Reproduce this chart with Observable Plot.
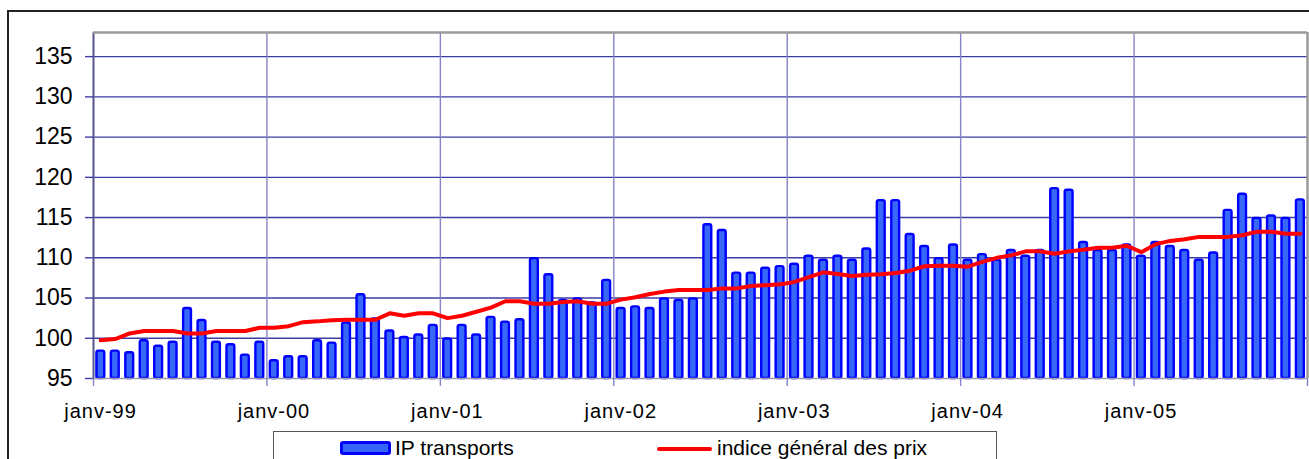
<!DOCTYPE html>
<html>
<head>
<meta charset="utf-8">
<script src="https://cdn.jsdelivr.net/npm/d3@7"></script>
<script src="https://cdn.jsdelivr.net/npm/@observablehq/plot@0.6"></script>
<style>
  html, body { margin: 0; padding: 0; background: #fff; overflow: hidden; }
  body { width: 1309px; height: 459px; position: relative; font-family: "Liberation Sans", Arial, sans-serif; }
  #frame { position: absolute; left: 7px; top: 10px; width: 1320px; height: 470px; border: 2px solid #222; box-sizing: border-box; }
  #chart { position: absolute; left: 0; top: 0; }
  #legend { position: absolute; left: 273px; top: 431px; width: 724px; height: 40px; border: 1.5px solid #555; box-sizing: border-box; background: #fff; }
  .item { position: absolute; top: 4px; font-size: 21px; color: #000; white-space: nowrap; line-height: 24px; }
  .sw-bar { position: absolute; width: 45px; height: 8px; background: #3366ff; border: 3px solid #0000ff; border-radius: 3px; }
  .sw-line { position: absolute; width: 55px; height: 4px; background: #ff0000; border-radius: 2px; }
</style>
</head>
<body>
<div id="frame"></div>
<div id="chart"></div>
<div id="legend"></div>
<script>
// Tick labels (one per January)
const tickLabels = ["janv-99", "janv-00", "janv-01", "janv-02", "janv-03", "janv-04", "janv-05"];
const seriesNames = ["IP transports", "indice général des prix"];

// Monthly values, janv-99 .. déc-05
const ipTransports = [
  98.4, 98.4, 98.2, 99.7, 99.0, 99.5, 103.7, 102.2, 99.5, 99.2, 97.9, 99.5,
  97.2, 97.7, 97.7, 99.7, 99.4, 101.9, 105.4, 102.4, 100.9, 100.1, 100.4, 101.6,
  99.9, 101.6, 100.4, 102.6, 102.0, 102.3, 109.9, 107.9, 104.7, 104.9, 104.4, 107.2,
  103.7, 103.9, 103.7, 104.9, 104.7, 104.9, 114.1, 113.4, 108.1, 108.1, 108.7, 108.9,
  109.2, 110.2, 109.7, 110.2, 109.7, 111.1, 117.1, 117.1, 112.9, 111.4, 109.9, 111.6,
  109.7, 110.4, 109.7, 110.9, 110.2, 110.9, 118.6, 118.4, 111.9, 110.9, 110.9, 111.6,
  110.2, 111.9, 111.4, 110.9, 109.7, 110.6, 115.9, 117.9, 114.9, 115.2, 114.9, 117.2
];
const indiceGeneral = [
  99.75, 99.9, 100.6, 100.9, 100.9, 100.9, 100.6, 100.6, 100.9, 100.9, 100.9, 101.3,
  101.3, 101.5, 102.0, 102.1, 102.25, 102.3, 102.3, 102.3, 103.1, 102.8, 103.1, 103.1,
  102.5, 102.8, 103.3, 103.8, 104.6, 104.6, 104.3, 104.3, 104.5, 104.6, 104.3, 104.3,
  104.8, 105.1, 105.5, 105.8, 106.0, 106.0, 106.0, 106.2, 106.2, 106.5, 106.6, 106.7,
  107.0, 107.6, 108.2, 108.0, 107.75, 107.9, 107.95, 108.1, 108.4, 108.95, 109.0, 109.0,
  108.9, 109.5, 110.0, 110.3, 110.8, 110.8, 110.5, 110.8, 111.0, 111.25, 111.25, 111.5,
  110.7, 111.7, 112.1, 112.3, 112.6, 112.6, 112.6, 112.8, 113.25, 113.25, 113.0, 113.0
];
const yTicks = [95, 100, 105, 110, 115, 120, 125, 130, 135];

const n = ipTransports.length;
const rows = ipTransports.map((v, i) => ({ i, ip: v, cpi: indiceGeneral[i] }));
const yearTicks = d3.range(0, n + 1, 12);

const chart = Plot.plot({
  width: 1309,
  height: 430,
  marginLeft: 93,
  marginRight: 2,
  marginTop: 32,
  marginBottom: 52,
  style: { fontFamily: "'Liberation Sans', Arial, sans-serif", background: "transparent", color: "#000", overflow: "visible" },
  x: { type: "linear", domain: [0, n] },
  y: { domain: [95, 138] },
  marks: [
    Plot.ruleY(yTicks.filter(d => d > 95), { stroke: "#3d3da6", strokeWidth: 1.4 }),
    Plot.ruleX(yearTicks.slice(1, -1), { stroke: "#8484c6", strokeWidth: 1.4 }),
    Plot.ruleX([0], { stroke: "#55558f", strokeWidth: 2 }),
    Plot.rectY(rows, {
      x1: d => d.i, x2: d => d.i + 1, y1: 95, y2: "ip",
      insetLeft: 3.4, insetRight: 3.2,
      fill: "#3868f8", stroke: "#0000ff", strokeWidth: 2.4, rx: 2
    }),
    Plot.line(rows, { x: d => d.i + 0.5, y: "cpi", stroke: "#ff0000", strokeWidth: 4, curve: "linear" }),
    Plot.ruleY([138], { stroke: "#9a9a9a", strokeWidth: 2.5 }),
    Plot.ruleX([n], { stroke: "#9a9a9a", strokeWidth: 2.5 }),
    Plot.ruleY([95], { stroke: "#9a9ab0", strokeWidth: 1.5 }),
    Plot.axisY({
      ticks: yTicks, tickSize: 8, tickPadding: 13, fontSize: 23,
      stroke: "#3d3da6", strokeWidth: 1.4, fill: "#000", tickFormat: d => String(d)
    }),
    Plot.axisX({
      ticks: yearTicks, tickSize: 8, tickPadding: 17, fontSize: 20,
      stroke: "#8484c6", strokeWidth: 1.4, fill: "#000",
      tickFormat: d => tickLabels[d / 12] ?? ""
    })
  ]
});
d3.select(chart).selectAll("g[aria-label='x-axis tick label'] text")
  .style("letter-spacing", "1px")
  .attr("dx", 7);
document.getElementById("chart").appendChild(chart);

const legend = document.getElementById("legend");
legend.innerHTML = `
  <div class="sw-bar" style="left:66px; top:9px;"></div>
  <div class="item" style="left:121px;">${seriesNames[0]}</div>
  <div class="sw-line" style="left:383px; top:15px;"></div>
  <div class="item" style="left:443px;">${seriesNames[1]}</div>
`;
</script>
</body>
</html>
